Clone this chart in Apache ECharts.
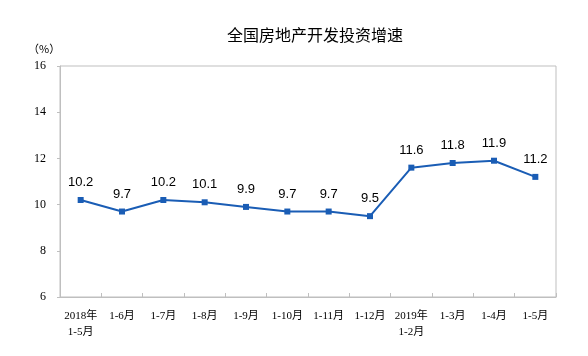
<!DOCTYPE html>
<html><head><meta charset="utf-8">
<script src="https://cdn.jsdelivr.net/npm/echarts@6/dist/echarts.min.js"></script>
<style>html,body{margin:0;padding:0;background:#fff}#c{width:588px;height:356px}</style>
</head><body><div id="c"></div>
<script>
const categories = ['2018年\n1-5月','1-6月','1-7月','1-8月','1-9月','1-10月','1-11月','1-12月','2019年\n1-2月','1-3月','1-4月','1-5月'];
const growth = [10.2, 9.7, 10.2, 10.1, 9.9, 9.7, 9.7, 9.5, 11.6, 11.8, 11.9, 11.2];
const yTicks = [6, 8, 10, 12, 14, 16];

const chart = echarts.init(document.getElementById('c'));
chart.setOption({
  animation: false,
  title: {
    text: '全国房地产开发投资增速',
    left: 310, top: 22, textAlign: 'center',
    textStyle: {fontFamily: 'Noto Sans CJK SC', fontSize: 16, fontWeight: 'normal', color: '#000'}
  },
  graphic: [{
    type: 'text', left: 28, top: 43,
    style: {text: '（%）', font: '11px "Noto Sans CJK SC"', fill: '#000'}
  }],
  grid: {left: 60, right: 32, top: 66, bottom: 59, show: true, borderColor: '#bfbfbf', borderWidth: 1},
  xAxis: {
    type: 'category', data: categories, boundaryGap: true,
    axisLine: {lineStyle: {color: '#bfbfbf'}},
    axisTick: {show: true, lineStyle: {color: '#bfbfbf'}, length: 4, inside: true},
    axisLabel: {color: '#000', fontFamily: '"Liberation Serif", "Noto Sans CJK SC"', fontSize: 11, margin: 11, lineHeight: 16, interval: 0}
  },
  yAxis: {
    type: 'value', min: 6, max: 16, interval: 2,
    axisLine: {show: true, lineStyle: {color: '#bfbfbf'}},
    axisTick: {show: true, lineStyle: {color: '#bfbfbf'}, length: 3},
    splitLine: {show: false},
    axisLabel: {color: '#000', fontFamily: '"Liberation Serif"', fontSize: 12, margin: 14,
      formatter: v => yTicks.includes(v) ? String(v) : ''}
  },
  series: [{
    type: 'line', data: growth,
    symbol: 'rect', symbolSize: 6,
    lineStyle: {color: '#1a5db5', width: 2},
    itemStyle: {color: '#1a5db5'},
    label: {show: true, position: 'top', distance: 8, color: '#000', fontFamily: '"Liberation Sans", Arial', fontSize: 13,
      formatter: p => p.value.toFixed(1)}
  }]
});
</script></body></html>
